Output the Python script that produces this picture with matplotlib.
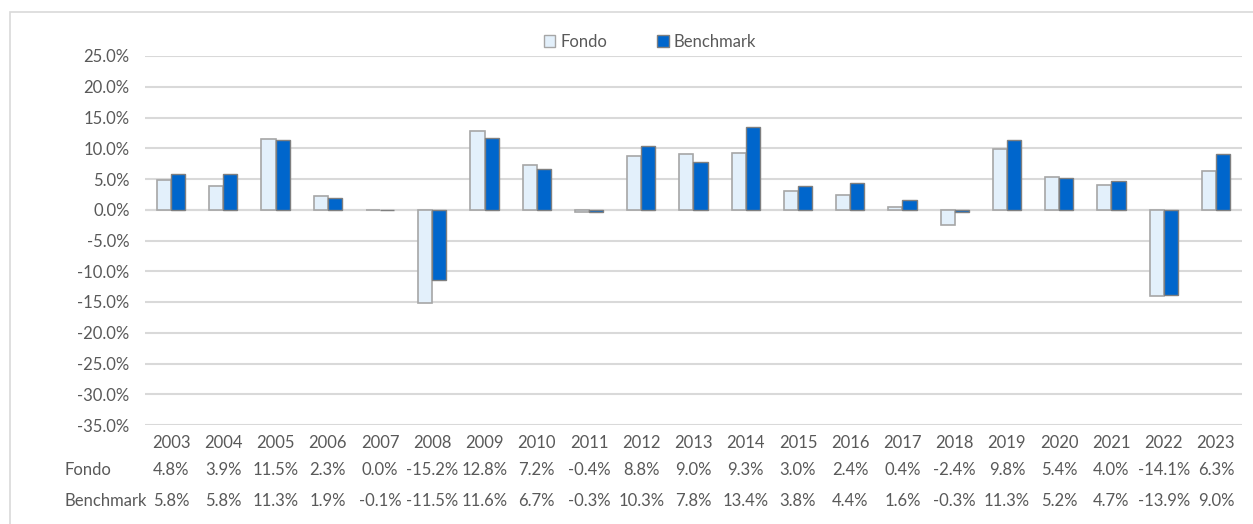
import numpy as np
import matplotlib.pyplot as plt
from matplotlib.patches import Rectangle, Patch
from matplotlib.ticker import FuncFormatter
import matplotlib.transforms as mtransforms

years = [2003, 2004, 2005, 2006, 2007, 2008, 2009, 2010, 2011, 2012, 2013,
         2014, 2015, 2016, 2017, 2018, 2019, 2020, 2021, 2022, 2023]
fondo = [4.8, 3.9, 11.5, 2.3, 0.0, -15.2, 12.8, 7.2, -0.4, 8.8, 9.0,
         9.3, 3.0, 2.4, 0.4, -2.4, 9.8, 5.4, 4.0, -14.1, 6.3]
benchmark = [5.8, 5.8, 11.3, 1.9, -0.1, -11.5, 11.6, 6.7, -0.3, 10.3, 7.8,
             13.4, 3.8, 4.4, 1.6, -0.3, 11.3, 5.2, 4.7, -13.9, 9.0]

plt.rcParams['font.family'] = ['Lato', 'DejaVu Sans']
txt_color = '#595959'
grid_color = '#D9D9D9'
fs = 12

W, H = 1253, 524
fig = plt.figure(figsize=(W / 100, H / 100), dpi=100)
ax = fig.add_axes([145 / W, 1 - 425 / H, (1242 - 145) / W, (425 - 56) / H])

x = np.arange(len(years))
bw = 0.27
ax.bar(x - bw / 2, fondo, bw, color='#E3F0FB', edgecolor='#A6A6A6', linewidth=1.2, zorder=3)
ax.bar(x + bw / 2, benchmark, bw, color='#0066CC', edgecolor='#7F7F7F', linewidth=1.0, zorder=3)

ax.set_ylim(-35, 25)
ax.set_xlim(-0.5, len(years) - 0.5)
ax.set_yticks(np.arange(-35, 26, 5))
ax.yaxis.set_major_formatter(FuncFormatter(lambda v, p: f"{v:.1f}%"))
ax.grid(axis='y', color=grid_color, linewidth=1.5, zorder=0)
ax.axhline(0, color=grid_color, linewidth=1.5, zorder=2)
for s in ax.spines.values():
    s.set_visible(False)
ax.tick_params(axis='y', length=0, pad=11, labelsize=fs, labelcolor=txt_color)
ax.set_xticks(x)
ax.set_xticklabels([str(y) for y in years])
ax.tick_params(axis='x', length=0, pad=7, labelsize=fs, labelcolor=txt_color)

# data table below the chart
trans = mtransforms.blended_transform_factory(ax.transData, fig.transFigure)
for i in range(len(years)):
    ax.text(x[i], 1 - 470 / H, f"{fondo[i]:.1f}%", transform=trans, ha='center', va='center',
            fontsize=fs, color=txt_color)
    ax.text(x[i], 1 - 501 / H, f"{benchmark[i]:.1f}%", transform=trans, ha='center', va='center',
            fontsize=fs, color=txt_color)
fig.text(65 / W, 1 - 470 / H, 'Fondo', ha='left', va='center', fontsize=fs, color=txt_color)
fig.text(65 / W, 1 - 501 / H, 'Benchmark', ha='left', va='center', fontsize=fs, color=txt_color)

# legend
handles = [Patch(facecolor='#E3F0FB', edgecolor='#A6A6A6', label='Fondo'),
           Patch(facecolor='#0066CC', edgecolor='#7F7F7F', label='Benchmark')]
fig.legend(handles=handles, loc='center', bbox_to_anchor=(650 / W, 1 - 42 / H), ncol=2,
           frameon=False, fontsize=fs, labelcolor=txt_color, handlelength=0.7, handleheight=0.7,
           handletextpad=0.3, columnspacing=3.0)

# outer chart frame
fig.patches.append(Rectangle((10 / W, -0.1), 1.2, 1.1 - 12 / H, transform=fig.transFigure,
                             fill=False, edgecolor=grid_color, linewidth=1.2))

fig.savefig('out.png', dpi=100, facecolor='white')
